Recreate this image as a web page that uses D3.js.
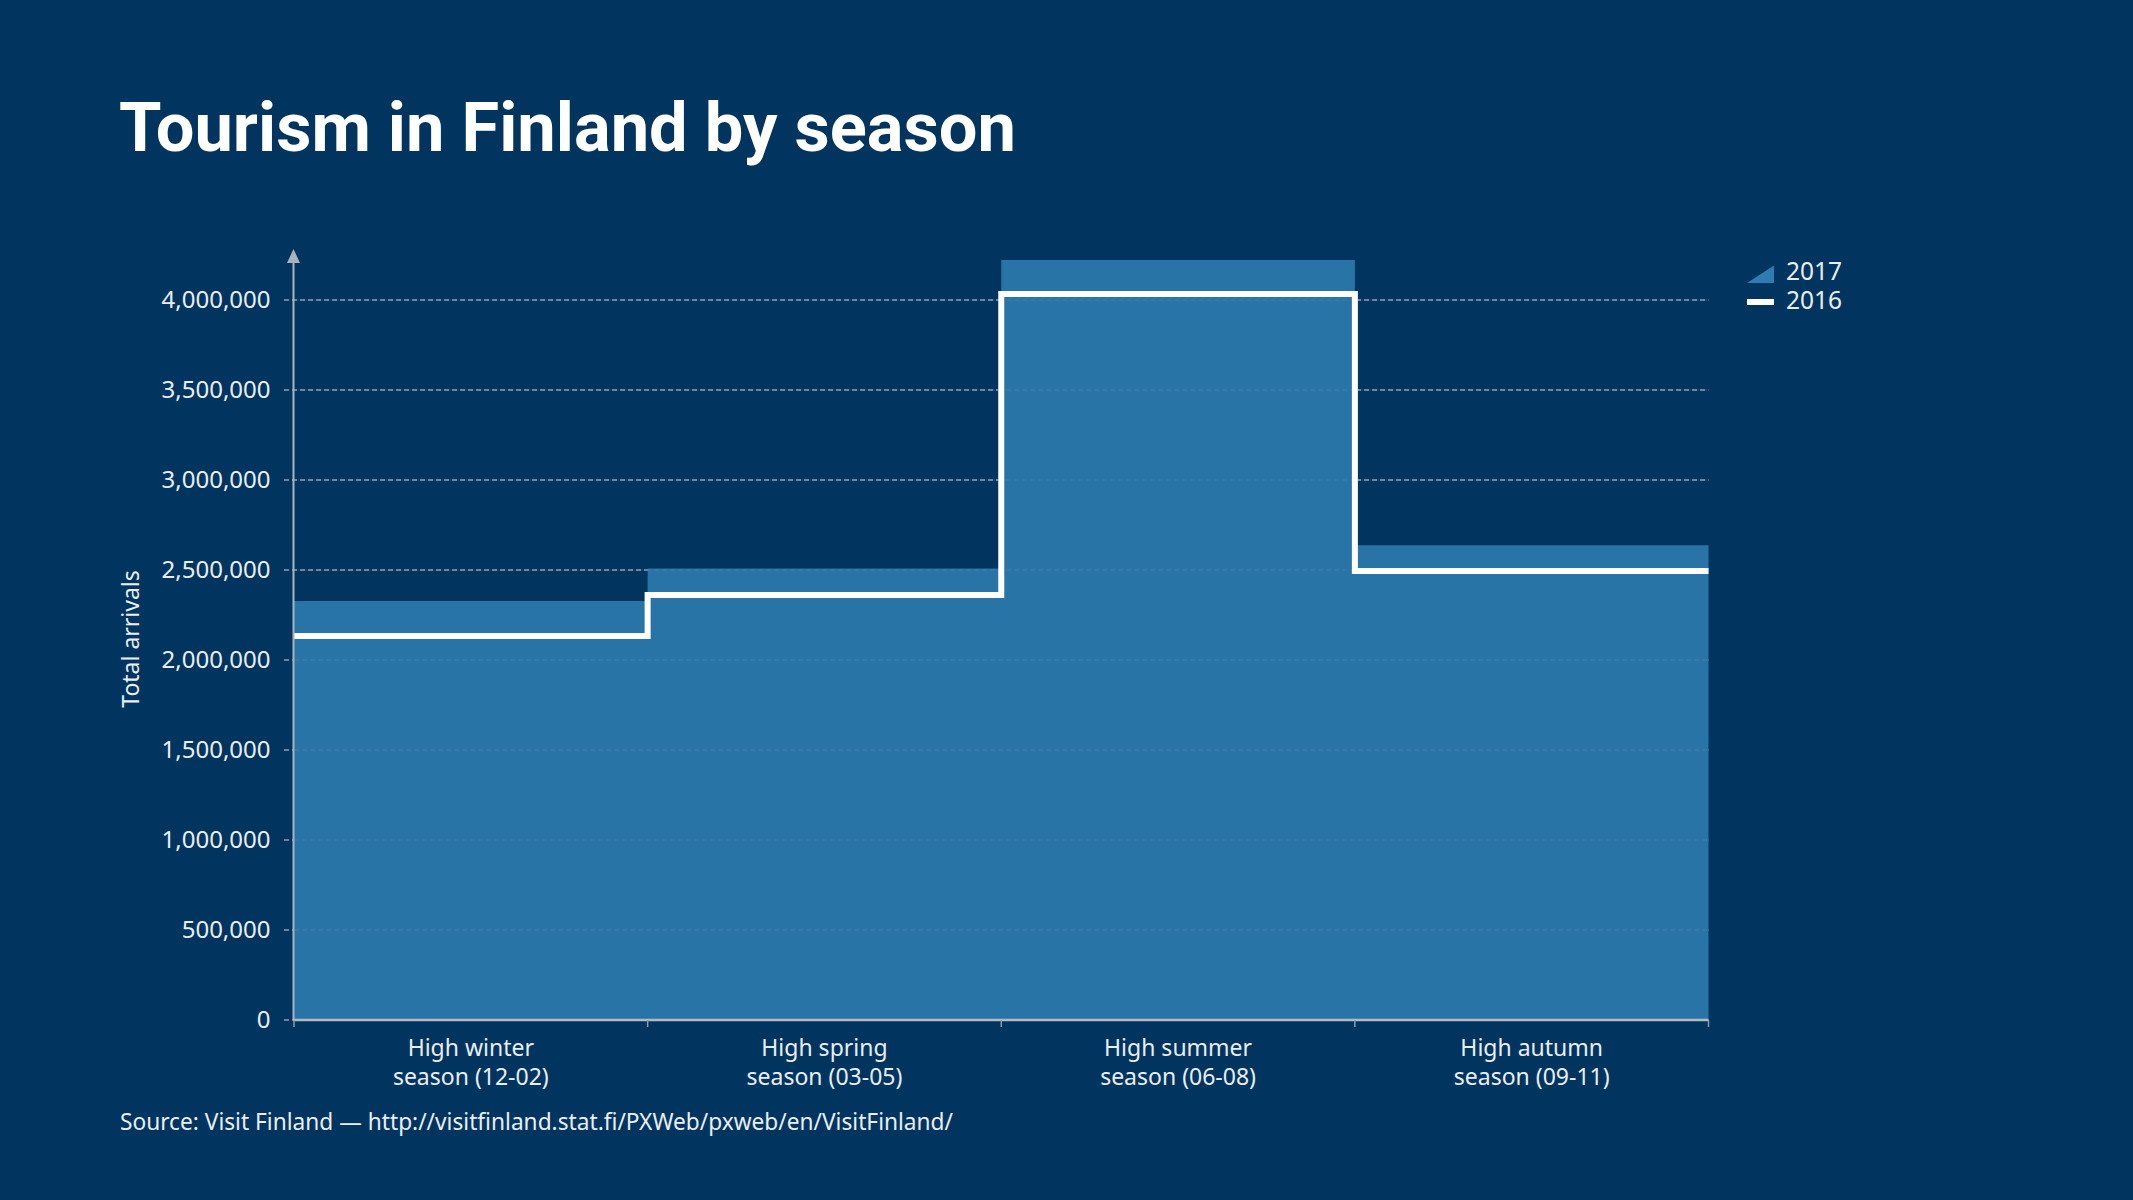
<!DOCTYPE html>
<meta charset="utf-8">
<style>
body { margin: 0; background: #01355f; }
text { font-family: "Noto Sans", "DejaVu Sans", sans-serif; fill: #e9eef3; }
.title { font-family: Roboto, "Noto Sans", sans-serif; font-weight: 700; fill: #fff; }
</style>
<body>
<script src="https://cdn.jsdelivr.net/npm/d3@7"></script>
<script>

// seasons and their two-line labels
var seasons = ["winter", "spring", "summer", "autumn"];
var seasonLabels = [
  ["High winter", "season (12-02)"],
  ["High spring", "season (03-05)"],
  ["High summer", "season (06-08)"],
  ["High autumn", "season (09-11)"]
];

// total arrivals
var arrivals2017 = [2328000, 2509000, 4222000, 2638000];
var arrivals2016 = [2133000, 2361000, 4033000, 2495000];

var yTicks = [0, 500000, 1000000, 1500000, 2000000, 2500000, 3000000, 3500000, 4000000];

var W = 2133, H = 1200;
var plotLeft = 294, plotRight = 1708.5, plotTop = 300, plotBottom = 1020;

var svg = d3.select("body").append("svg")
    .attr("width", W)
    .attr("height", H);

svg.append("rect").attr("width", W).attr("height", H).attr("fill", "#01355f");

var x = d3.scaleBand()
    .domain(seasons)
    .range([plotLeft, plotRight])
    .padding(0);

var y = d3.scaleLinear()
    .domain([0, 4000000])
    .range([plotBottom, plotTop]);

// step series need one extra point at the right edge
function steps(vals) {
  var pts = vals.map(function(v, i) { return [x(seasons[i]), y(v)]; });
  pts.push([x.range()[1], y(vals[vals.length - 1])]);
  return pts;
}

// grid (under the area)
svg.append("g").selectAll("line")
    .data(yTicks)
    .enter().append("line")
    .attr("x1", plotLeft - 10)
    .attr("x2", plotRight)
    .attr("y1", function(d) { return y(d); })
    .attr("y2", function(d) { return y(d); })
    .attr("stroke", "#8ea0b3")
    .attr("stroke-width", 1.5)
    .attr("stroke-dasharray", "5,3");

// 2017 area
var area = d3.area()
    .curve(d3.curveStepAfter)
    .x(function(d) { return d[0]; })
    .y0(plotBottom)
    .y1(function(d) { return d[1]; });

svg.append("path")
    .datum(steps(arrivals2017))
    .attr("d", area)
    .attr("fill", "#2874a6");

// faint grid on top of the area
svg.append("g").selectAll("line")
    .data(yTicks)
    .enter().append("line")
    .attr("x1", plotLeft)
    .attr("x2", plotRight)
    .attr("y1", function(d) { return y(d); })
    .attr("y2", function(d) { return y(d); })
    .attr("stroke", "#8ea0b3")
    .attr("stroke-opacity", 0.18)
    .attr("stroke-width", 1.5)
    .attr("stroke-dasharray", "5,3");

// 2016 line
var line = d3.line()
    .curve(d3.curveStepAfter)
    .x(function(d) { return d[0]; })
    .y(function(d) { return d[1]; });

svg.append("path")
    .datum(steps(arrivals2016))
    .attr("d", line)
    .attr("fill", "none")
    .attr("stroke", "#fff")
    .attr("stroke-width", 6)
    .attr("stroke-linejoin", "miter");

// y axis
var yAxis = d3.axisLeft(y)
    .tickValues(yTicks)
    .tickFormat(d3.format(","))
    .tickSize(0)
    .tickPadding(23);

var gy = svg.append("g")
    .attr("transform", "translate(" + (plotLeft - 0.5) + ",0)")
    .call(yAxis);
gy.select(".domain").remove();
gy.selectAll("text")
    .style("font-family", "'Noto Sans', sans-serif")
    .style("font-size", "24px")
    .attr("fill", "#e9eef3");

svg.append("line")
    .attr("x1", plotLeft - 0.5).attr("x2", plotLeft - 0.5)
    .attr("y1", plotBottom).attr("y2", 262)
    .attr("stroke", "#aab3bd")
    .attr("stroke-width", 2);
svg.append("path")
    .attr("d", "M" + (plotLeft - 0.5) + ",249L" + (plotLeft + 6) + ",263L" + (plotLeft - 7) + ",263Z")
    .attr("fill", "#aab3bd");

// x axis
svg.append("line")
    .attr("x1", plotLeft - 1).attr("x2", plotRight)
    .attr("y1", plotBottom).attr("y2", plotBottom)
    .attr("stroke", "#b3bac2")
    .attr("stroke-width", 2.5);

var edges = seasons.map(function(s) { return x(s); }).concat([x.range()[1]]);
svg.append("g").selectAll("line")
    .data(edges)
    .enter().append("line")
    .attr("x1", function(d) { return d; })
    .attr("x2", function(d) { return d; })
    .attr("y1", plotBottom)
    .attr("y2", plotBottom + 7)
    .attr("stroke", "#8f9aa6")
    .attr("stroke-width", 1.5);

var xl = svg.append("g").selectAll("text")
    .data(seasons)
    .enter().append("text")
    .attr("x", function(d) { return x(d) + x.bandwidth() / 2; })
    .attr("y", 1056)
    .attr("text-anchor", "middle")
    .style("font-size", "23px");
xl.append("tspan")
    .attr("x", function(d) { return x(d) + x.bandwidth() / 2; })
    .text(function(d, i) { return seasonLabels[i][0]; });
xl.append("tspan")
    .attr("x", function(d) { return x(d) + x.bandwidth() / 2; })
    .attr("dy", 29)
    .text(function(d, i) { return seasonLabels[i][1]; });

// y axis title
svg.append("text")
    .attr("transform", "translate(139,639) rotate(-90)")
    .attr("text-anchor", "middle")
    .style("font-size", "23px")
    .text("Total arrivals");

// title
svg.append("text")
    .attr("class", "title")
    .attr("x", 119)
    .attr("y", 151)
    .style("font-size", "68px")
    .attr("textLength", 897)
    .attr("lengthAdjust", "spacingAndGlyphs")
    .text("Tourism in Finland by season");

// source
svg.append("text")
    .attr("x", 120)
    .attr("y", 1130)
    .style("font-size", "22.7px")
    .text("Source: Visit Finland \u2014 http://visitfinland.stat.fi/PXWeb/pxweb/en/VisitFinland/");

// legend
var lg = svg.append("g");
lg.append("path")
    .attr("d", "M1747,283L1774,265.5L1774,283Z")
    .attr("fill", "#2d7db3");
lg.append("rect")
    .attr("x", 1747).attr("y", 299)
    .attr("width", 27).attr("height", 6)
    .attr("fill", "#fff");
lg.append("text").attr("x", 1786).attr("y", 280).style("font-size", "24.5px").text("2017");
lg.append("text").attr("x", 1786).attr("y", 309).style("font-size", "24.5px").text("2016");

</script>
